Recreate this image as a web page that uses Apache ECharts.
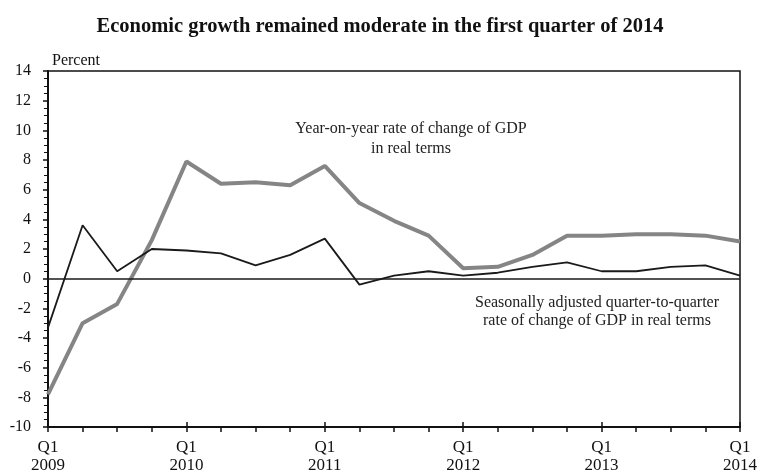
<!DOCTYPE html>
<html>
<head>
<meta charset="utf-8">
<script src="https://cdn.jsdelivr.net/npm/echarts@6/dist/echarts.min.js"></script>
<style>html,body{margin:0;padding:0;background:#fff}#c{width:760px;height:475px}</style>
</head>
<body>
<div id="c"></div>
<script>
const categories = ['Q1 2009','Q2 2009','Q3 2009','Q4 2009',
  'Q1 2010','Q2 2010','Q3 2010','Q4 2010',
  'Q1 2011','Q2 2011','Q3 2011','Q4 2011',
  'Q1 2012','Q2 2012','Q3 2012','Q4 2012',
  'Q1 2013','Q2 2013','Q3 2013','Q4 2013',
  'Q1 2014'];
const yoyValues = [-7.8, -3.0, -1.7, 2.6, 7.9, 6.4, 6.5, 6.3, 7.6, 5.1, 3.9, 2.9, 0.7, 0.8, 1.6, 2.9, 2.9, 3.0, 3.0, 2.9, 2.5];
const qoqValues = [-3.3, 3.6, 0.5, 2.0, 1.9, 1.7, 0.9, 1.6, 2.7, -0.4, 0.2, 0.5, 0.2, 0.4, 0.8, 1.1, 0.5, 0.5, 0.8, 0.9, 0.2];
const yTicks = {min: -10, max: 14, interval: 2};
const titleText = 'Economic growth remained moderate in the first quarter of 2014';
const unitLabel = 'Percent';
const yoyLabel = ['Year-on-year rate of change of GDP', 'in real terms'];
const qoqLabel = ['Seasonally adjusted quarter-to-quarter', 'rate of change of GDP in real terms'];

const serif = '"Liberation Serif", "Times New Roman", serif';
const chart = echarts.init(document.getElementById('c'), null, {renderer: 'canvas'});
function txt(s, x, y) {
  return {type: 'text', x: x, y: y, z: 10,
    style: {text: s, font: '16px ' + serif, fill: '#222', textAlign: 'center', textVerticalAlign: 'middle'}};
}
chart.setOption({
  backgroundColor: '#fff',
  animation: false,
  title: {
    text: titleText, left: 'center', top: 11,
    textStyle: {fontFamily: serif, fontWeight: 'bold', fontSize: 20.5, color: '#111'}
  },
  grid: {left: 48, right: 19, top: 71, bottom: 47, show: true, borderColor: '#111', borderWidth: 1.5},
  xAxis: [{
    type: 'category', data: categories, boundaryGap: false,
    axisLine: {onZero: false, lineStyle: {color: '#111', width: 2}},
    axisTick: {show: true, interval: 0, length: 5, lineStyle: {color: '#111', width: 1.5}},
    axisLabel: {
      interval: 0, margin: 12, lineHeight: 18, fontFamily: serif, fontSize: 17, color: '#111',
      formatter: v => v.startsWith('Q1') ? v.replace(' ', '\n') : ''
    },
    splitLine: {show: false}
  }, {
    type: 'category', data: categories, boundaryGap: false, position: 'bottom',
    axisLine: {show: false, onZero: false},
    axisTick: {show: true, inside: true, length: 5, interval: (i) => i % 4 === 0, lineStyle: {color: '#111', width: 1.5}},
    axisLabel: {show: false}, splitLine: {show: false}
  }],
  yAxis: {
    type: 'value', min: yTicks.min, max: yTicks.max, interval: yTicks.interval,
    axisLine: {show: true, lineStyle: {color: '#111', width: 2}},
    axisTick: {show: true, length: 5, lineStyle: {color: '#111', width: 1.5}},
    minorTick: {show: true, splitNumber: 4, length: 4, lineStyle: {color: '#111', width: 1}},
    axisLabel: {margin: 17, fontFamily: serif, fontSize: 16, color: '#111'},
    splitLine: {show: false}
  },
  series: [{
    name: 'qoq', type: 'line', data: qoqValues, symbol: 'none', xAxisIndex: 0,
    lineStyle: {color: '#1a1a1a', width: 1.8}, z: 3,
    markLine: {
      silent: true, symbol: 'none', label: {show: false},
      lineStyle: {color: '#1a1a1a', width: 1.5, type: 'solid'},
      data: [{yAxis: 0}]
    }
  }, {
    name: 'yoy', type: 'line', data: yoyValues, symbol: 'none', xAxisIndex: 0,
    lineStyle: {color: '#858585', width: 4}, z: 2
  }],
  graphic: [
    {type: 'text', x: 52, y: 60.5, z: 10, style: {text: unitLabel, font: '16px ' + serif, fill: '#111', textAlign: 'left', textVerticalAlign: 'middle'}},
    txt(yoyLabel[0], 411, 129),
    txt(yoyLabel[1], 411, 148.5),
    txt(qoqLabel[0], 597, 302.5),
    txt(qoqLabel[1], 597, 321)
  ]
});
</script>
</body>
</html>
